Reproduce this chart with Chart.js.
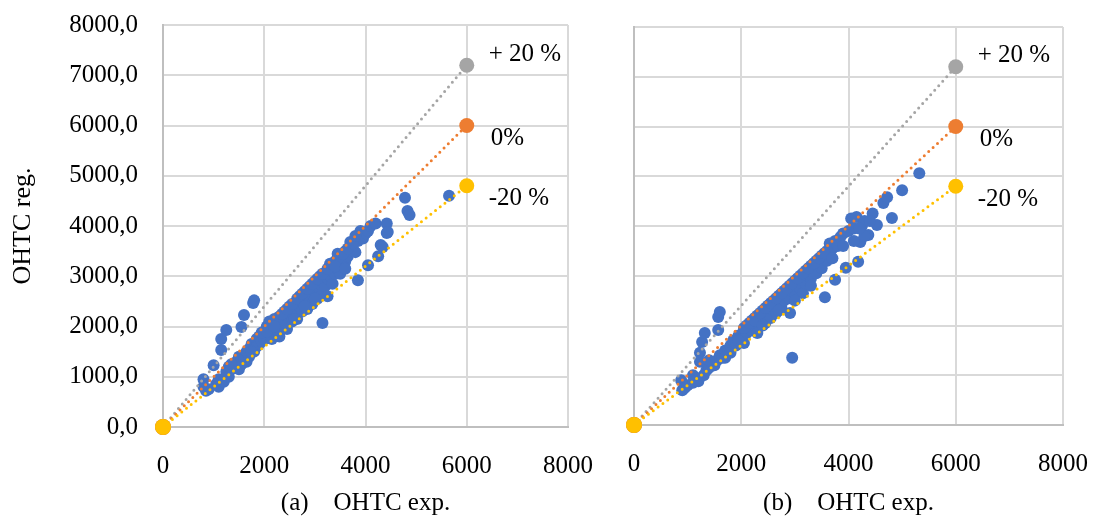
<!DOCTYPE html>
<html>
<head>
<meta charset="utf-8">
<script src="https://cdn.jsdelivr.net/npm/chart.js@4/dist/chart.umd.min.js"></script>
<style>
  html, body { margin: 0; padding: 0; background: #fff; }
  #wrap { position: relative; width: 1095px; height: 518px; overflow: hidden; }
  .box { position: absolute; top: 0; height: 518px; }
</style>
</head>
<body>
<div id="wrap">
  <div class="box" style="left:0;width:595px"><canvas id="chartA"></canvas></div>
  <div class="box" style="left:600px;width:495px"><canvas id="chartB"></canvas></div>
</div>
<script>
// data

// panel (a): [OHTC exp., OHTC reg.]
const pointsA = [
  [800,950],[800,800],[850,720],[900,750],[1000,1230],[1050,850],[1100,800],[1100,950],[1150,1750],[1150,1530],
  [1200,900],[1250,1100],[1250,1930],[1300,1000],[1300,1200],[1350,1150],[1400,1250],[1450,1300],[1500,1150],[1500,1400],
  [1550,1990],[1550,1250],[1600,2230],[1600,1350],[1650,1500],[1650,1300],[1700,1550],[1700,1400],[1750,1650],[1780,2470],
  [1800,2520],[1800,1500],[1850,1750],[1850,1600],[1900,1800],[1900,1650],[1950,1700],[2000,1850],[2000,1750],[2050,2000],
  [2050,1800],[2100,1900],[2100,2100],[2150,1950],[2150,1750],[2200,2150],[2200,1850],[2250,2050],[2250,1950],[2300,2200],
  [2300,1800],[2350,2100],[2350,1950],[2400,2300],[2400,2050],[2450,2200],[2450,1950],[2500,2400],[2500,2150],[2550,2300],
  [2550,2100],[2600,2450],[2600,2250],[2650,2350],[2650,2150],[2700,2600],[2700,2400],[2750,2500],[2750,2300],[2800,2700],
  [2800,2500],[2850,2600],[2850,2350],[2900,2800],[2900,2550],[2950,2650],[2950,2450],[3000,2900],[3000,2700],[3050,2800],
  [3050,2550],[3100,3000],[3100,2750],[3150,2900],[3150,2650],[3150,2070],[3200,3050],[3200,2800],[3250,2950],[3250,2600],
  [3300,3250],[3300,3000],[3350,3100],[3350,2850],[3400,3300],[3400,3050],[3450,3450],[3450,3150],[3500,3350],[3500,3050],
  [3550,3250],[3600,3500],[3600,3300],[3650,3400],[3700,3680],[3700,3500],[3750,3550],[3800,3480],[3850,3700],[3850,2920],
  [3900,3900],[3950,3750],[4000,3850],[4050,3220],[4050,3900],[4100,4000],[4200,4050],[4250,3400],[4300,3620],[4420,4050],
  [4420,3860],[4440,3880],[4340,3580],[4780,4560],[4830,4300],[4870,4220],[5650,4600],
  [1950,1880],[2050,1900],[2150,2050],[2250,2150],[2350,2250],[2450,2350],[2550,2450],[2650,2550],[2750,2650],[2850,2750],
  [2950,2850],[3050,2950],[3150,3050],[3250,3150],[3350,3250],[3450,3350],[3550,3450],[3650,3550],[3750,3650],[3400,3200],
  [3600,3150],[3000,2550],[2800,2400],[2600,2150],[2400,2000],[2200,2000],[1750,1500],[1450,1200],[1350,1250],[3800,3800]
];

// panel (b)
const pointsB = [
  [880,900],[900,700],[950,750],[1000,800],[1100,850],[1150,950],[1200,880],[1230,1450],[1230,1270],[1270,1670],
  [1300,1000],[1320,1850],[1350,1100],[1400,1150],[1450,1250],[1500,1200],[1550,1300],[1570,2170],[1570,1910],[1600,2270],
  [1600,1400],[1650,1350],[1700,1500],[1750,1450],[1800,1600],[1800,1450],[1850,1700],[1900,1600],[1950,1800],[2000,1750],
  [2050,1900],[2050,1650],[2100,2000],[2100,1850],[2150,1950],[2200,2100],[2200,1900],[2250,2000],[2250,2150],[2300,2200],
  [2300,1850],[2350,2100],[2400,2300],[2400,2150],[2450,2250],[2450,2050],[2500,2400],[2500,2200],[2550,2350],[2550,2150],
  [2600,2500],[2600,2300],[2650,2450],[2650,2250],[2700,2600],[2700,2400],[2750,2550],[2750,2350],[2800,2700],[2800,2500],
  [2850,2650],[2900,2800],[2900,2550],[2910,2250],[2950,1350],[2950,2700],[3000,2900],[3000,2650],[3050,2850],[3100,3000],
  [3100,2750],[3150,2950],[3150,2650],[3200,3100],[3200,2850],[3250,3000],[3300,3200],[3300,2950],[3350,3150],[3400,3300],
  [3400,3050],[3450,3250],[3500,3400],[3500,3150],[3550,3350],[3560,2570],[3600,3500],[3600,3300],[3650,3650],[3650,3450],
  [3700,3550],[3750,3700],[3750,2920],[3800,3600],[3850,3780],[3900,3850],[3950,3160],[4000,3900],[4050,4150],[4100,3950],
  [4150,4180],[4180,3280],[4220,3680],[4250,4000],[4300,4100],[4370,3820],[4450,4250],[4530,4020],[4650,4460],[4720,4580],
  [4810,4160],[5000,4720],[5320,5060],
  [1950,1700],[2050,1950],[2150,2050],[2250,2100],[2350,2250],[2450,2350],[2550,2450],[2650,2550],[2750,2650],[2850,2750],
  [2950,2850],[3050,2950],[3150,3050],[3250,3150],[3350,3250],[3450,3350],[3550,3450],[3700,3350],[3900,3600],[4100,3700],
  [4300,3800],[4200,3950],[4400,4100],[3300,2800],[3000,2500],[2700,2300],[2400,2000],[1700,1350],[1400,1300],[1100,1000]
];

// reference lines from origin
const lineNames = ['-20 %', '0%', '+ 20 %'];
const lineEndX = [6000, 6000, 6000];
const lineEndY = [4800, 6000, 7200];
const lineColors = ['#FFC000', '#ED7D31', '#A5A5A5'];
const labelOffsets = [[22, 13], [24, 13], [22, -11]];

const xTicks = [0, 2000, 4000, 6000, 8000];
const yTicks = [0, 1000, 2000, 3000, 4000, 5000, 6000, 7000, 8000];

const serif = 'Liberation Serif';
const textColor = '#000';
const fontSize = 25;

//datasets

function buildDatasets(points) {
  const sets = lineNames.map((name, i) => ({
    label: name,
    data: [{x: 0, y: 0}, {x: lineEndX[i], y: lineEndY[i]}],
    showLine: true,
    borderColor: lineColors[i],
    backgroundColor: lineColors[i],
    borderWidth: 3,
    borderDash: [0, 6],
    borderCapStyle: 'round',
    pointRadius: [8, 7.5],
    pointBorderWidth: 0,
    clip: false
  }));
  sets.push({
    label: 'OHTC',
    data: points.map(p => ({x: p[0], y: p[1]})),
    backgroundColor: '#4472C4',
    borderWidth: 0,
    pointRadius: 6,
    clip: false
  });
  return sets;
}

// text next to the line ends
const endLabels = {
  id: 'endLabels',
  afterDatasetsDraw(chart) {
    const {ctx, scales: {x, y}} = chart;
    ctx.save();
    ctx.font = fontSize + 'px "' + serif + '"';
    ctx.fillStyle = textColor;
    ctx.textBaseline = 'middle';
    lineNames.forEach((name, i) => {
      const px = x.getPixelForValue(lineEndX[i]) + labelOffsets[i][0];
      const py = y.getPixelForValue(lineEndY[i]) + labelOffsets[i][1];
      ctx.fillText(name, px, py);
    });
    ctx.restore();
  }
};

function gridColor(c) {
  return c.tick && c.tick.value === 0 ? '#bfbfbf' : '#d9d9d9';
}

//config
// tick gaps come from invisible tick marks, so that they do not add to the label overflow padding

function makeConfig(points, title, showY, yWidth, padTop, padRight, xHeight) {
  return {
    type: 'scatter',
    data: { datasets: buildDatasets(points) },
    plugins: [endLabels],
    options: {
      responsive: true,
      maintainAspectRatio: false,
      animation: false,
      layout: { padding: { top: padTop, right: padRight, left: 0, bottom: 0 } },
      plugins: { legend: { display: false }, tooltip: { enabled: false } },
      scales: {
        x: {
          type: 'linear',
          min: 0, max: 8000,
          afterBuildTicks: s => { s.ticks = xTicks.map(v => ({value: v})); },
          afterFit: s => { s.height = xHeight; },
          grid: { color: gridColor, lineWidth: 2, drawTicks: true, tickLength: 24, tickColor: 'rgba(0,0,0,0)' },
          border: { color: '#bfbfbf', width: 2 },
          ticks: {
            padding: 0, color: textColor, font: { family: serif, size: fontSize },
            callback: v => String(v)
          },
          title: {
            display: true, text: title, color: textColor,
            font: { family: serif, size: fontSize }, padding: { top: 0, bottom: 0 }
          }
        },
        y: {
          type: 'linear',
          min: 0, max: 8000,
          afterBuildTicks: s => { s.ticks = yTicks.map(v => ({value: v})); },
          afterFit: s => { s.width = yWidth; },
          grid: { color: gridColor, lineWidth: 2, drawTicks: showY, tickLength: 25, tickColor: 'rgba(0,0,0,0)' },
          border: { color: '#bfbfbf', width: 2 },
          ticks: {
            display: showY, padding: 0, color: textColor,
            font: { family: serif, size: fontSize },
            callback: v => v.toFixed(1).replace('.', ',')
          },
          title: {
            display: showY, text: 'OHTC reg.', color: textColor,
            font: { family: serif, size: 26 }, padding: { top: 8, bottom: 0 }
          }
        }
      }
    }
  };
}

//render

const chartA = new Chart(document.getElementById('chartA'),
  makeConfig(pointsA, '(a)    OHTC exp.', true, 163, 25, 27, 91));

const chartB = new Chart(document.getElementById('chartB'),
  makeConfig(pointsB, '(b)    OHTC exp.', false, 34, 27, 32, 93));
</script>
</body>
</html>
